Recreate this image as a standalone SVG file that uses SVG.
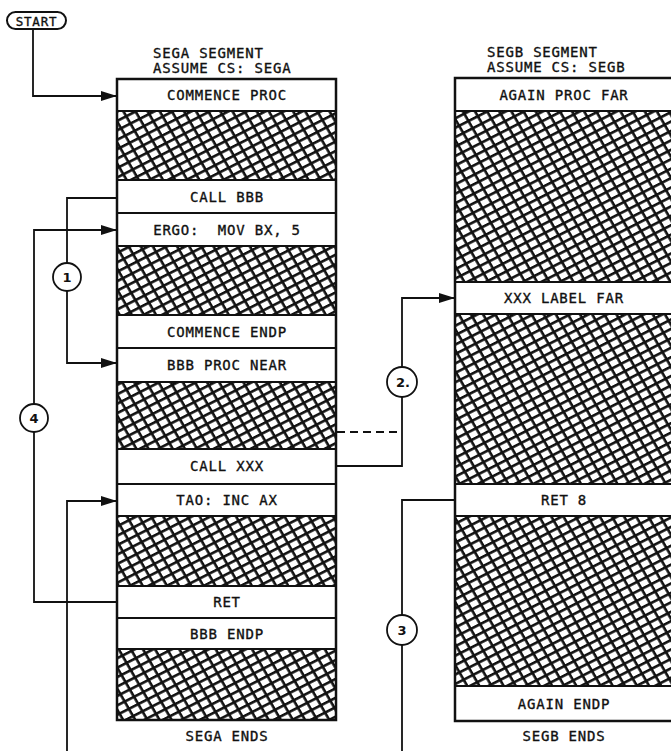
<svg xmlns="http://www.w3.org/2000/svg" width="671" height="751" viewBox="0 0 671 751">
<style>
.t{font-family:"DejaVu Sans Mono","Liberation Mono",monospace;font-size:14px;letter-spacing:0.8px;fill:#111;stroke:#111;stroke-width:0.35px;}
.c{text-anchor:middle;}
.box{fill:#fff;stroke:#111;stroke-width:2;}
.col{fill:none;stroke:#111;stroke-width:2.5;}
.ln{fill:none;stroke:#111;stroke-width:1.8;}
.dash{fill:none;stroke:#111;stroke-width:1.8;stroke-dasharray:8 5;}
.circ{fill:#fff;stroke:#111;stroke-width:1.8;}
.num{font-family:"DejaVu Sans","Liberation Sans",sans-serif;font-size:13px;font-weight:bold;fill:#111;text-anchor:middle;}
.ha{fill:url(#hA);}
.hb{fill:url(#hB);}
</style>
<defs>
<pattern id="hA" width="20" height="8.4" patternUnits="userSpaceOnUse" patternTransform="rotate(-27)">
<rect x="0" y="0" width="20" height="2.6" fill="#111"/>
</pattern>
<pattern id="hB" width="20" height="10.5" patternUnits="userSpaceOnUse" patternTransform="rotate(60)">
<rect x="0" y="0" width="20" height="2.6" fill="#111"/>
</pattern>
<marker id="arr" markerWidth="17" markerHeight="12" refX="16" refY="6" orient="auto" markerUnits="userSpaceOnUse">
<path d="M0,1 L16,6 L0,11 Z" fill="#111"/>
</marker>
</defs>
<rect width="671" height="751" fill="#fff"/>

<g id="headers">
<text class="t" x="153" y="58">SEGA SEGMENT</text>
<text class="t" x="153" y="73">ASSUME CS: SEGA</text>
<text class="t" x="487" y="57">SEGB SEGMENT</text>
<text class="t" x="487" y="72">ASSUME CS: SEGB</text>
<text class="t c" x="227" y="741">SEGA ENDS</text>
<text class="t c" x="564" y="741">SEGB ENDS</text>
</g>

<g id="start">
<rect x="7" y="12" width="59" height="17" rx="8.5" fill="#fff" stroke="#111" stroke-width="2"/>
<text class="t c" x="36.5" y="25.5" style="font-size:12.5px">START</text>
</g>

<g id="sega-hatch">
<rect x="117" y="111" width="219" height="69" fill="#fff"/><rect class="ha" x="117" y="111" width="219" height="69"/><rect class="hb" x="117" y="111" width="219" height="69"/>
<rect x="117" y="246" width="219" height="69" fill="#fff"/><rect class="ha" x="117" y="246" width="219" height="69"/><rect class="hb" x="117" y="246" width="219" height="69"/>
<rect x="117" y="382" width="219" height="67" fill="#fff"/><rect class="ha" x="117" y="382" width="219" height="67"/><rect class="hb" x="117" y="382" width="219" height="67"/>
<rect x="117" y="516" width="219" height="70" fill="#fff"/><rect class="ha" x="117" y="516" width="219" height="70"/><rect class="hb" x="117" y="516" width="219" height="70"/>
<rect x="117" y="649" width="219" height="71" fill="#fff"/><rect class="ha" x="117" y="649" width="219" height="71"/><rect class="hb" x="117" y="649" width="219" height="71"/>
</g>
<g id="segb-hatch">
<rect x="455" y="111" width="218" height="171" fill="#fff"/><rect class="ha" x="455" y="111" width="218" height="171"/><rect class="hb" x="455" y="111" width="218" height="171"/>
<rect x="455" y="314" width="218" height="170" fill="#fff"/><rect class="ha" x="455" y="314" width="218" height="170"/><rect class="hb" x="455" y="314" width="218" height="170"/>
<rect x="455" y="516" width="218" height="170" fill="#fff"/><rect class="ha" x="455" y="516" width="218" height="170"/><rect class="hb" x="455" y="516" width="218" height="170"/>
</g>

<g id="commence-proc"><rect class="box" x="117" y="79" width="219" height="32"/><text class="t c" x="227" y="100">COMMENCE PROC</text></g>
<g id="call-bbb"><rect class="box" x="117" y="180" width="219" height="33"/><text class="t c" x="227" y="202">CALL BBB</text></g>
<g id="ergo"><rect class="box" x="117" y="213" width="219" height="33"/><text class="t c" x="227" y="235" xml:space="preserve">ERGO:  MOV BX, 5</text></g>
<g id="commence-endp"><rect class="box" x="117" y="315" width="219" height="33"/><text class="t c" x="227" y="337">COMMENCE ENDP</text></g>
<g id="bbb-proc-near"><rect class="box" x="117" y="348" width="219" height="34"/><text class="t c" x="227" y="370">BBB PROC NEAR</text></g>
<g id="call-xxx"><rect class="box" x="117" y="449" width="219" height="35"/><text class="t c" x="227" y="471">CALL XXX</text></g>
<g id="tao"><rect class="box" x="117" y="484" width="219" height="32"/><text class="t c" x="227" y="505">TAO: INC AX</text></g>
<g id="ret"><rect class="box" x="117" y="586" width="219" height="32"/><text class="t c" x="227" y="607">RET</text></g>
<g id="bbb-endp"><rect class="box" x="117" y="618" width="219" height="31"/><text class="t c" x="227" y="639">BBB ENDP</text></g>
<rect class="col" x="117" y="79" width="219" height="641"/>

<g id="again-proc-far"><rect class="box" x="455" y="78" width="218" height="33"/><text class="t c" x="564" y="100">AGAIN PROC FAR</text></g>
<g id="xxx-label-far"><rect class="box" x="455" y="282" width="218" height="32"/><text class="t c" x="564" y="303">XXX LABEL FAR</text></g>
<g id="ret-8"><rect class="box" x="455" y="484" width="218" height="32"/><text class="t c" x="564" y="505">RET 8</text></g>
<g id="again-endp"><rect class="box" x="455" y="686" width="218" height="35"/><text class="t c" x="564" y="709">AGAIN ENDP</text></g>
<rect class="col" x="455" y="78" width="218" height="643"/>

<g id="connectors">
<path class="ln" d="M33,29 V96 H117" marker-end="url(#arr)"/>
<path class="ln" d="M117,198 H67 V363 H117" marker-end="url(#arr)"/>
<path class="ln" d="M117,602 H34 V230 H117" marker-end="url(#arr)"/>
<path class="ln" d="M336,466 H402 V298 H455" marker-end="url(#arr)"/>
<path class="dash" d="M337,432 H402"/>
<path class="ln" d="M455,500 H402 V751"/>
<path class="ln" d="M67,751 V501 H117" marker-end="url(#arr)"/>
</g>

<g id="label-1"><circle class="circ" cx="67" cy="277" r="14"/><text class="num" x="67" y="282">1</text></g>
<g id="label-4"><circle class="circ" cx="34" cy="418" r="14"/><text class="num" x="34" y="423">4</text></g>
<g id="label-2"><circle class="circ" cx="402" cy="382" r="15"/><text class="num" x="403" y="387">2.</text></g>
<g id="label-3"><circle class="circ" cx="402" cy="630" r="15"/><text class="num" x="402" y="635">3</text></g>
</svg>
